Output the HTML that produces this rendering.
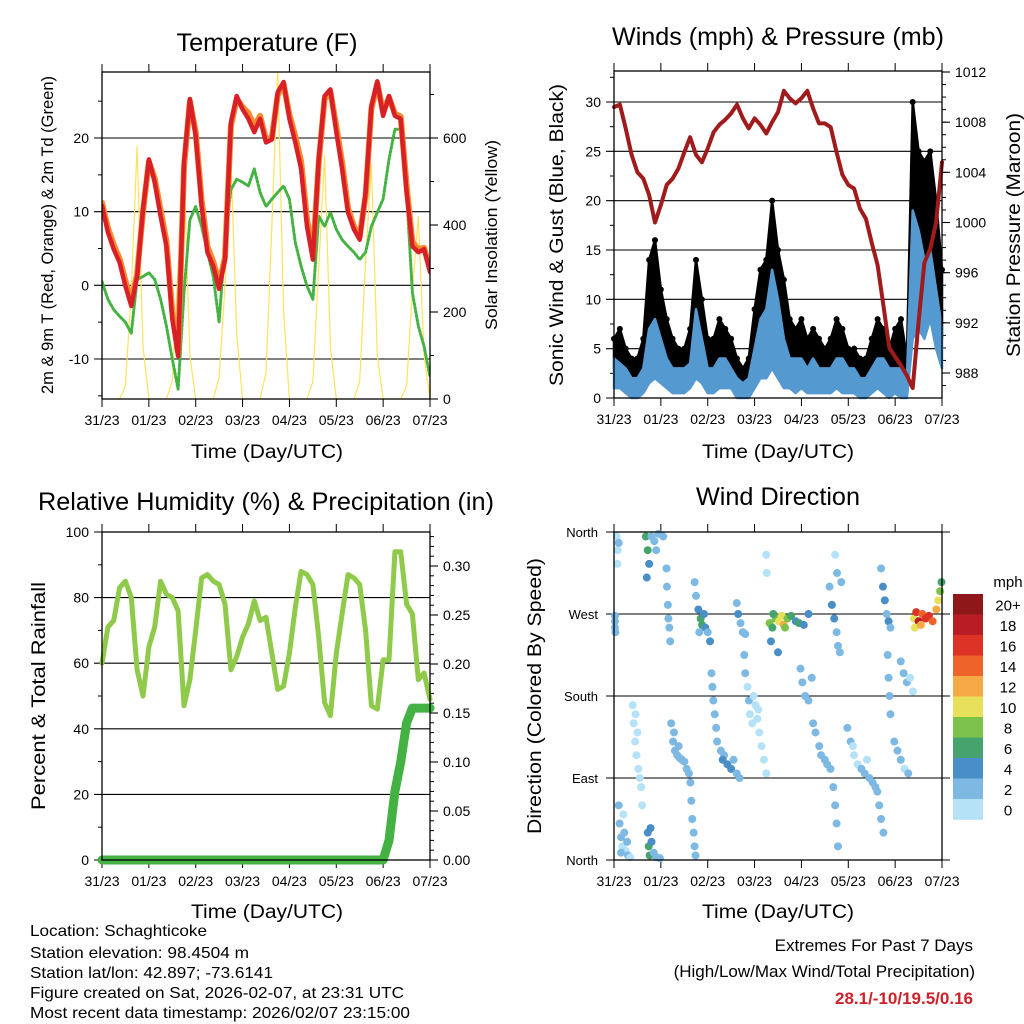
<!DOCTYPE html>
<html><head><meta charset="utf-8">
<style>
html,body{margin:0;padding:0;background:#fff;}
svg{display:block;font-family:"Liberation Sans",Arial,sans-serif;}
</style></head>
<body>
<svg id="root" width="1024" height="1024" viewBox="0 0 1024 1024" xmlns="http://www.w3.org/2000/svg">
<rect x="0" y="0" width="1024" height="1024" fill="#fff"/>
<text x="267" y="51" font-size="25" text-anchor="middle" textLength="181" lengthAdjust="spacingAndGlyphs">Temperature (F)</text>
<text x="778" y="45" font-size="25" text-anchor="middle" textLength="332" lengthAdjust="spacingAndGlyphs">Winds (mph) &amp; Pressure (mb)</text>
<text x="266" y="510" font-size="25" text-anchor="middle" textLength="456" lengthAdjust="spacingAndGlyphs">Relative Humidity (%) &amp; Precipitation (in)</text>
<text x="778" y="505" font-size="25" text-anchor="middle" textLength="164" lengthAdjust="spacingAndGlyphs">Wind Direction</text>

<text transform="translate(53,235) rotate(-90)" font-size="17" text-anchor="middle" textLength="318" lengthAdjust="spacingAndGlyphs">2m &amp; 9m T (Red, Orange) &amp; 2m Td (Green)</text>
<text transform="translate(497,235) rotate(-90)" font-size="17" text-anchor="middle" textLength="190" lengthAdjust="spacingAndGlyphs">Solar Insolation (Yellow)</text>
<text transform="translate(563,235) rotate(-90)" font-size="19" text-anchor="middle" textLength="302" lengthAdjust="spacingAndGlyphs">Sonic Wind &amp; Gust (Blue, Black)</text>
<text transform="translate(1020,235) rotate(-90)" font-size="19" text-anchor="middle" textLength="244" lengthAdjust="spacingAndGlyphs">Station Pressure (Maroon)</text>
<text transform="translate(45,696) rotate(-90)" font-size="19" text-anchor="middle" textLength="228" lengthAdjust="spacingAndGlyphs">Percent &amp; Total Rainfall</text>
<text transform="translate(541,696) rotate(-90)" font-size="19" text-anchor="middle" textLength="276" lengthAdjust="spacingAndGlyphs">Direction (Colored By Speed)</text>

<text x="267" y="458" font-size="19" text-anchor="middle" textLength="152" lengthAdjust="spacingAndGlyphs">Time (Day/UTC)</text>
<text x="778" y="458" font-size="19" text-anchor="middle" textLength="152" lengthAdjust="spacingAndGlyphs">Time (Day/UTC)</text>
<text x="267" y="918" font-size="19" text-anchor="middle" textLength="152" lengthAdjust="spacingAndGlyphs">Time (Day/UTC)</text>
<text x="778" y="918" font-size="19" text-anchor="middle" textLength="152" lengthAdjust="spacingAndGlyphs">Time (Day/UTC)</text>

<g font-size="16">
<text x="30" y="936" textLength="177" lengthAdjust="spacingAndGlyphs">Location: Schaghticoke</text>
<text x="30" y="958" textLength="219" lengthAdjust="spacingAndGlyphs">Station elevation: 98.4504 m</text>
<text x="30" y="978" textLength="243" lengthAdjust="spacingAndGlyphs">Station lat/lon: 42.897; -73.6141</text>
<text x="30" y="998" textLength="374" lengthAdjust="spacingAndGlyphs">Figure created on Sat, 2026-02-07, at 23:31 UTC</text>
<text x="30" y="1018" textLength="380" lengthAdjust="spacingAndGlyphs">Most recent data timestamp: 2026/02/07 23:15:00</text>
</g>
<g font-size="17" text-anchor="end">
<text x="973" y="951">Extremes For Past 7 Days</text>
<text x="975" y="977">(High/Low/Max Wind/Total Precipitation)</text>
<text x="973" y="1004" fill="#cc2229" font-weight="bold">28.1/-10/19.5/0.16</text>
</g>
<g id="charts"></g>
</svg>
<script>
// ---------- data (3-hourly, t = 0..7 days) ----------
const dayLabels = ["31/23","01/23","02/23","03/23","04/23","05/23","06/23","07/23"];
const temp2m = [10.8,7.2,4.9,3.1,-0.1,-2.8,1.2,10.3,17.1,14,9.4,5.3,-4.6,-9.6,16.7,25.3,20.3,10.7,4.5,2.6,-0.5,3.5,22.1,25.7,23.9,22.6,20.8,22.6,19.4,19.8,26.2,27.6,22.6,19.4,15.8,8.0,3.5,17.1,25.7,26.6,20.8,15.8,9.9,7.6,6.2,12.6,24.3,27.7,23.0,25.7,23.0,22.6,12.6,5.3,4.5,4.9,1.8];
const temp9m = [11.2,7.8,5.5,3.6,0.6,-2.0,1.5,10.0,16.8,14.5,10.2,6.0,-3.6,-9.0,16.0,25.0,20.8,11.6,5.3,3.2,0.2,3.8,21.6,25.3,24.2,23.4,21.6,23.0,19.8,20.1,25.8,27.3,23.2,20.2,16.8,9.0,4.2,16.6,25.3,26.3,21.6,16.7,10.5,8.0,6.6,12.2,24.0,27.4,23.5,25.5,23.3,22.9,13.5,5.9,4.9,5.1,2.2];
const dewpoint = [0.5,-1.9,-3.3,-4.2,-5.0,-6.5,0.8,1.2,1.7,0.8,-1.9,-5.5,-10,-14.1,-1.0,8.9,10.7,8.0,4.5,1.2,-5.0,5.8,13,14.4,14,13.5,15.8,12.6,10.7,11.7,12.6,13.5,11.7,5.8,2.6,-0.1,-1.9,9.4,8.0,9.9,7.6,6.2,5.3,4.5,3.5,4.5,8.0,9.9,11.7,17.1,21.2,21.2,12.6,-1.0,-5.5,-8.3,-12.4];
const solar = [0,0,0,0,30,250,580,120, 0,0,0,0,40,300,530,100, 0,0,0,0,50,260,560,150, 0,0,0,0,60,400,760,200, 0,0,0,0,40,300,560,120, 0,0,0,0,40,320,540,100, 0,0,0,0,30,250,420,100, 0];
const pressure = [1009.2,1009.4,1007.5,1005.4,1004.0,1003.5,1002.2,1000.0,1001.4,1003.0,1003.5,1004.3,1005.6,1006.8,1005.4,1004.8,1005.9,1007.2,1007.8,1008.2,1008.7,1009.4,1008.3,1007.5,1008.3,1007.8,1007.1,1008.0,1008.8,1010.5,1009.9,1009.5,1009.9,1010.5,1009.1,1007.9,1007.9,1007.6,1005.6,1003.8,1003.0,1002.7,1001.1,1000.3,998.4,996.6,993.4,990.0,989.3,988.6,987.8,986.8,992.1,996.8,997.9,1000.0,1004.8];
const gustHigh = [6,7,5,4,4,6,14,16,11,8,6,5,5,7,14,10,6,6,8,7,6,4,3,4,9,13,14,20,15,12,8,7,8,6,7,6,5,6,8,7,5,5,4,4,6,8,7,5,7,8,4,30,25,24,25,20,13];
const gustLow = [3,3,2,1,1.5,2,5,6,4,3,2,2,2,2,5,4,2,2,3,3,2,1,1,1,3,5,5,8,6,4,3,3,3,2,2,2,2,2,3,2,2,2,1,1,2,3,2,1,2,2,1,14,13,12,13,9,6];
const windHigh = [4,3.5,3,2,2,3,7,8,6,4,3,3,3,3.5,9,6,3,3,4,4,3,2,1.5,2,5,8,9,13,10,6,4,4,4,3,4,3,3,3,4,4,3,3,2,2,3,4,4,3,3,3,2,19,17,14,15,11,7];
const windLow = [1,1,0.5,0,0,0.5,1.5,2,1.5,1,0.5,0.5,0.5,1,2,1.5,0.5,0.5,1,1,1,0,0,0,1,2,2,3,2,1,1,0.5,1,0.5,0.5,0.5,0.5,0.5,1,0.5,0.5,0.5,0,0,0.5,1,0.5,0,0.5,0,0,6,7,6,8,5,3];
const rh = [60,71,73,83,85,80,58,50,65,71,85,81,80,76,47,55,70,86,87,85,84,78,58,62,68,72,79,73,74,63,52,53,63,77,88,87,84,68,48,44,63,75,87,86,84,70,47,46,61,61,94,94,78,75,55,57,49];
const precip = [0,0,0,0,0,0,0,0,0,0,0,0,0,0,0,0,0,0,0,0,0,0,0,0,0,0,0,0,0,0,0,0,0,0,0,0,0,0,0,0,0,0,0,0,0,0,0,0,0,0.02,0.07,0.10,0.14,0.155,0.155,0.155,0.155];
// wind direction observations
const dirTime = [0.02,0.02,0.03,0.02,0.06,0.08,0.07,0.1,0.1,0.12,0.15,0.18,0.22,0.25,0.3,0.2,0.28,0.35,0.15,0.4,0.42,0.45,0.48,0.52,0.55,0.58,0.5,0.6,0.46,0.72,0.74,0.76,0.8,0.85,0.9,0.98,0.78,0.68,0.72,0.75,0.8,0.86,0.9,0.95,1.05,0.7,1.12,1.13,1.15,1.16,1.18,1.2,1.22,1.26,1.3,1.35,1.4,1.45,1.5,1.55,1.6,1.28,1.38,1.63,1.65,1.67,1.7,1.72,1.74,1.72,1.75,1.8,1.85,1.88,1.92,1.95,2.0,2.05,1.82,2.08,2.1,2.12,2.15,2.18,2.2,2.28,2.35,2.42,2.5,2.55,2.62,2.68,2.32,2.62,2.65,2.7,2.75,2.8,2.78,2.8,2.85,2.88,2.9,2.95,2.98,3.02,3.06,3.1,3.15,3.2,3.25,3.08,3.25,3.26,3.32,3.38,3.45,3.52,3.58,3.62,3.7,3.78,3.88,3.95,4.05,4.15,3.35,3.5,3.4,3.65,3.98,4.02,4.08,4.15,4.22,4.25,4.3,4.38,4.42,4.5,4.55,4.62,4.6,4.65,4.7,4.75,4.78,4.82,4.72,4.76,4.85,4.68,4.72,4.75,4.78,4.98,5.05,5.12,5.2,5.28,5.35,5.45,5.52,5.58,5.1,5.4,5.62,5.66,5.7,5.75,5.7,5.74,5.78,5.82,5.86,5.9,5.84,5.86,5.88,5.9,5.98,6.05,6.12,6.2,6.28,6.12,6.18,6.25,6.32,6.38,6.4,6.45,6.5,6.58,6.65,6.72,6.8,6.88,6.42,6.55,6.92,6.96,6.99];
const dirDeg = [262,255,250,268,355,340,325,348,60,40,25,15,30,10,5,50,20,3,8,170,150,130,115,100,90,80,140,60,160,30,15,5,20,8,3,2,35,355,340,325,355,350,340,358,355,310,320,300,280,265,255,240,150,130,120,115,112,110,108,100,95,140,125,85,65,45,30,15,5,305,290,275,265,258,270,255,250,240,250,205,190,175,160,145,130,120,115,105,100,110,95,90,110,282,270,260,250,248,225,205,190,175,160,150,180,170,155,140,125,110,95,165,335,315,260,255,265,262,268,258,265,268,262,260,258,270,240,228,270,255,210,195,180,175,200,150,140,125,115,110,105,100,300,280,265,250,235,228,335,315,305,80,60,40,15,145,130,115,105,100,95,90,85,80,125,110,75,60,45,30,320,300,285,270,262,255,225,200,180,160,130,120,110,100,95,218,205,195,200,185,265,272,262,270,265,268,262,275,255,258,285,295,305];
const dirSpeed = [3,3,3,2,1,1,1,2,2,2,2,1,2,1,2,1,2,1,2,1,1,0,1,0,1,1,1,1,0,5,7,7,4,3,2,3,4,6,7,4,3,3,2,2,2,4,2,2,3,2,2,2,2,2,2,2,2,3,2,3,2,2,2,2,2,2,2,2,2,2,3,4,7,6,5,4,3,4,3,2,2,2,2,2,2,3,3,4,4,2,2,2,4,3,4,3,3,2,2,2,1,2,1,1,0,0,0,0,0,0,0,0,0,0,8,6,9,10,11,12,8,7,5,6,5,4,4,4,7,9,3,2,2,2,2,2,2,3,2,2,2,2,3,4,4,3,3,3,0,2,2,3,3,3,3,2,2,1,1,2,2,2,2,3,0,1,2,2,2,3,3,4,4,3,4,3,2,2,2,2,2,2,2,1,2,3,3,2,1,1,10,16,18,14,16,17,15,12,11,13,10,8,6];
const speedBins = ["0","2","4","6","8","10","12","14","16","18","20+"];
const speedColors = ["#b5e2f7","#7db9e3","#4a8ec7","#46a36e","#7cc24a","#e6e05b","#f5aa45","#ee6329","#dd3327","#b81c25","#8e171a"];

// ---------- helpers ----------
const NS = "http://www.w3.org/2000/svg";
const root = document.getElementById("charts");
function mk(tag, parent) { const e = document.createElementNS(NS, tag); parent.appendChild(e); return e; }
function lin(d0, r0, d1, r1) { return v => r0 + (v - d0) * (r1 - r0) / (d1 - d0); }
const P1 = {x0:102,x1:430,y0:72,y1:399}, P2 = {x0:614,x1:942,y0:71,y1:398}, P3 = {x0:102,x1:430,y0:532,y1:860}, P4 = {x0:614,x1:942,y0:532,y1:860};
function xs(p) { return lin(0, p.x0, 7, p.x1); }
const tStep = 0.125;

function frame(p, name) {
  const g = mk("g", root);
  
  
  const x = xs(p);
  for (let i = 0; i < dayLabels.length; i++) {
    const px = x(i);
    const t1 = mk("line", g); t1.setAttribute("x1", px); t1.setAttribute("x2", px); t1.setAttribute("y1", p.y1); t1.setAttribute("y2", p.y1 + 8); t1.setAttribute("stroke", "#000");
     
    const t2 = mk("line", g); t2.setAttribute("x1", px); t2.setAttribute("x2", px); t2.setAttribute("y1", p.y0); t2.setAttribute("y2", p.y0 - 8); t2.setAttribute("stroke", "#000");
     
    const tx = mk("text", g); tx.setAttribute("x", px); tx.setAttribute("y", p.y1 + 26); tx.setAttribute("font-size", "14"); tx.setAttribute("text-anchor", "middle"); tx.textContent = dayLabels[i];
     
  }
  return g;
}
function border(p, name) {
  const r = mk("rect", root); r.setAttribute("x", p.x0); r.setAttribute("y", p.y0); r.setAttribute("width", p.x1 - p.x0); r.setAttribute("height", p.y1 - p.y0);
  r.setAttribute("fill", "none"); r.setAttribute("stroke", "#000"); r.setAttribute("stroke-width", "1.3");
   
}
function yAxis(p, scale, majors, minors, fmt, side, grid, name, gridExt) {
  const g = mk("g", root);
  
  
  const edge = side === "left" ? p.x0 : p.x1, dir = side === "left" ? -1 : 1;
  minors.forEach(v => {
    const y = scale(v);
    const l = mk("line", g); l.setAttribute("x1", edge); l.setAttribute("x2", edge + dir * 4); l.setAttribute("y1", y); l.setAttribute("y2", y); l.setAttribute("stroke", "#000");
     
  });
  majors.forEach(v => {
    const y = scale(v);
    const l = mk("line", g);
    if (grid) { l.setAttribute("x1", p.x0 - 8); l.setAttribute("x2", p.x1 + (gridExt || 0)); }
    else { l.setAttribute("x1", edge); l.setAttribute("x2", edge + dir * 8); }
    l.setAttribute("y1", y); l.setAttribute("y2", y); l.setAttribute("stroke", "#000"); l.setAttribute("stroke-width", "1.1");
     
    const t = mk("text", g); t.setAttribute("x", edge + dir * 13); t.setAttribute("y", y + 5); t.setAttribute("font-size", "14");
    t.setAttribute("text-anchor", side === "left" ? "end" : "start"); t.textContent = fmt(v);
     
  });
}
function range(a, b, s) { const r = []; for (let v = a; v <= b + 1e-9; v += s) r.push(+v.toFixed(4)); return r; }
function pathOf(arr, x, y) { return arr.map((v, i) => (i ? "L" : "M") + x(i * tStep).toFixed(1) + "," + y(v).toFixed(1)).join(""); }
function line(arr, x, y, color, w, name, parent, extra) {
  const p = mk("path", parent || root); p.setAttribute("d", pathOf(arr, x, y)); p.setAttribute("fill", "none"); p.setAttribute("stroke", color); p.setAttribute("stroke-width", w);
  p.setAttribute("stroke-linejoin", "round"); p.setAttribute("stroke-linecap", "round");
  if (extra) p.setAttribute("stroke-dasharray", extra);
   
  return p;
}
function band(hi, lo, x, y, color, name) {
  let d = hi.map((v, i) => (i ? "L" : "M") + x(i * tStep).toFixed(1) + "," + y(v).toFixed(1)).join("");
  for (let i = lo.length - 1; i >= 0; i--) d += "L" + x(i * tStep).toFixed(1) + "," + y(lo[i]).toFixed(1);
  const p = mk("path", root); p.setAttribute("d", d + "Z"); p.setAttribute("fill", color); p.setAttribute("stroke", color); p.setAttribute("stroke-width", "2.5"); p.setAttribute("stroke-linejoin", "round");
   
}

// ---------- Panel 1: temperature ----------
{
  const p = P1, x = xs(p);
  const yT = lin(-10, 359, 20, 138), yS = lin(0, 399, 600, 138);
  frame(p, "temperature");
  yAxis(p, yT, [-10, 0, 10, 20], [-15, -5, 5, 15, 25], v => String(v), "left", true, "temperature-left-axis");
  yAxis(p, yS, [0, 200, 400, 600], [100, 300, 500, 700], v => String(v), "right", false, "solar-right-axis");
  const clip = mk("clipPath", root); clip.setAttribute("id", "c1");
  const cr = mk("rect", clip); cr.setAttribute("x", p.x0); cr.setAttribute("y", p.y0); cr.setAttribute("width", p.x1 - p.x0); cr.setAttribute("height", p.y1 - p.y0);
  const g = mk("g", root); g.setAttribute("clip-path", "url(#c1)");
   
  line(solar, x, yS, "#ffe25e", 1.2, "solar-line", g);
  line(dewpoint, x, yT, "#45b244", 3, "dewpoint-line", g, "2,2");
  line(temp9m, x, yT, "#f58a2e", 6, "temp-9m-line", g);
  line(temp2m, x, yT, "#d92027", 4.5, "temp-2m-line", g);
  border(p, "temperature");
}
// ---------- Panel 2: winds & pressure ----------
{
  const p = P2, x = xs(p);
  const yW = lin(0, 398, 30, 102), yP = lin(988, 373, 1012, 72);
  frame(p, "winds");
  yAxis(p, yW, [0, 5, 10, 15, 20, 25, 30], [2.5, 7.5, 12.5, 17.5, 22.5, 27.5, 32.5], v => String(v), "left", true, "wind-left-axis");
  yAxis(p, yP, range(988, 1012, 4), range(987, 1012, 1), v => String(v), "right", false, "pressure-right-axis");
  band(gustHigh, gustLow, x, yW, "#000", "gust-band");
  gustHigh.forEach((v, i) => {
    const c = mk("circle", root); c.setAttribute("cx", x(i * tStep)); c.setAttribute("cy", yW(v)); c.setAttribute("r", 3);
    c.setAttribute("fill", "#000");
     
  });
  band(windHigh, windLow, x, yW, "#5599d1", "wind-band");
  line(pressure, x, yP, "#a01b1b", 4, "pressure-line");
  border(p, "winds");
}
// ---------- Panel 3: RH & precip ----------
{
  const p = P3, x = xs(p);
  const yR = lin(0, 860, 100, 532), yQ = lin(0, 860, 0.3, 566);
  frame(p, "humidity");
  yAxis(p, yR, [0, 20, 40, 60, 80, 100], [10, 30, 50, 70, 90], v => String(v), "left", true, "humidity-left-axis");
  yAxis(p, yQ, range(0, 0.3, 0.05), range(0, 0.33, 0.01), v => v.toFixed(2), "right", false, "precip-right-axis");
  line(rh, x, yR, "#8fca4b", 5, "humidity-line");
  line(precip, x, yQ, "#43b243", 9, "precip-line");
  border(p, "humidity");
}
// ---------- Panel 4: wind direction ----------
{
  const p = P4, x = xs(p);
  const yD = lin(0, 860, 360, 532);
  frame(p, "direction");
  const names = ["North", "East", "South", "West", "North"];
  const g = mk("g", root);  
  [0, 90, 180, 270, 360].forEach((v, i) => {
    const l = mk("line", g); l.setAttribute("x1", p.x0 - 8); l.setAttribute("x2", p.x1 + 8); l.setAttribute("y1", yD(v)); l.setAttribute("y2", yD(v)); l.setAttribute("stroke", "#000"); l.setAttribute("stroke-width", "1.1");
     
    const t = mk("text", g); t.setAttribute("x", p.x0 - 16); t.setAttribute("y", yD(v) + 5); t.setAttribute("font-size", "13"); t.setAttribute("text-anchor", "end"); t.textContent = names[i];
     
  });
  const dg = mk("g", root);  
  dirTime.forEach((t, i) => {
    const c = mk("circle", dg); c.setAttribute("cx", x(t)); c.setAttribute("cy", yD(dirDeg[i])); c.setAttribute("r", 4);
    c.setAttribute("fill", speedColors[Math.min(10, Math.floor(dirSpeed[i] / 2))]);
     
  });
  border(p, "direction");
  // colorbar
  const cb = mk("g", root);  
  const top = 594, h = 20.5;
  const u = mk("text", cb); u.setAttribute("x", 1008); u.setAttribute("y", 587); u.setAttribute("font-size", "15"); u.setAttribute("text-anchor", "middle"); u.textContent = "mph";
   
  for (let k = 0; k < speedBins.length; k++) {
    const idx = speedBins.length - 1 - k;
    const r = mk("rect", cb); r.setAttribute("x", 953); r.setAttribute("y", top + k * h); r.setAttribute("width", 30); r.setAttribute("height", h + 0.3); r.setAttribute("fill", speedColors[idx]);
     
    const t = mk("text", cb); t.setAttribute("x", 1008); t.setAttribute("y", top + k * h + h / 2 + 6); t.setAttribute("font-size", "15"); t.setAttribute("text-anchor", "middle"); t.textContent = speedBins[idx];
     
  }
}
</script>
</body></html>
